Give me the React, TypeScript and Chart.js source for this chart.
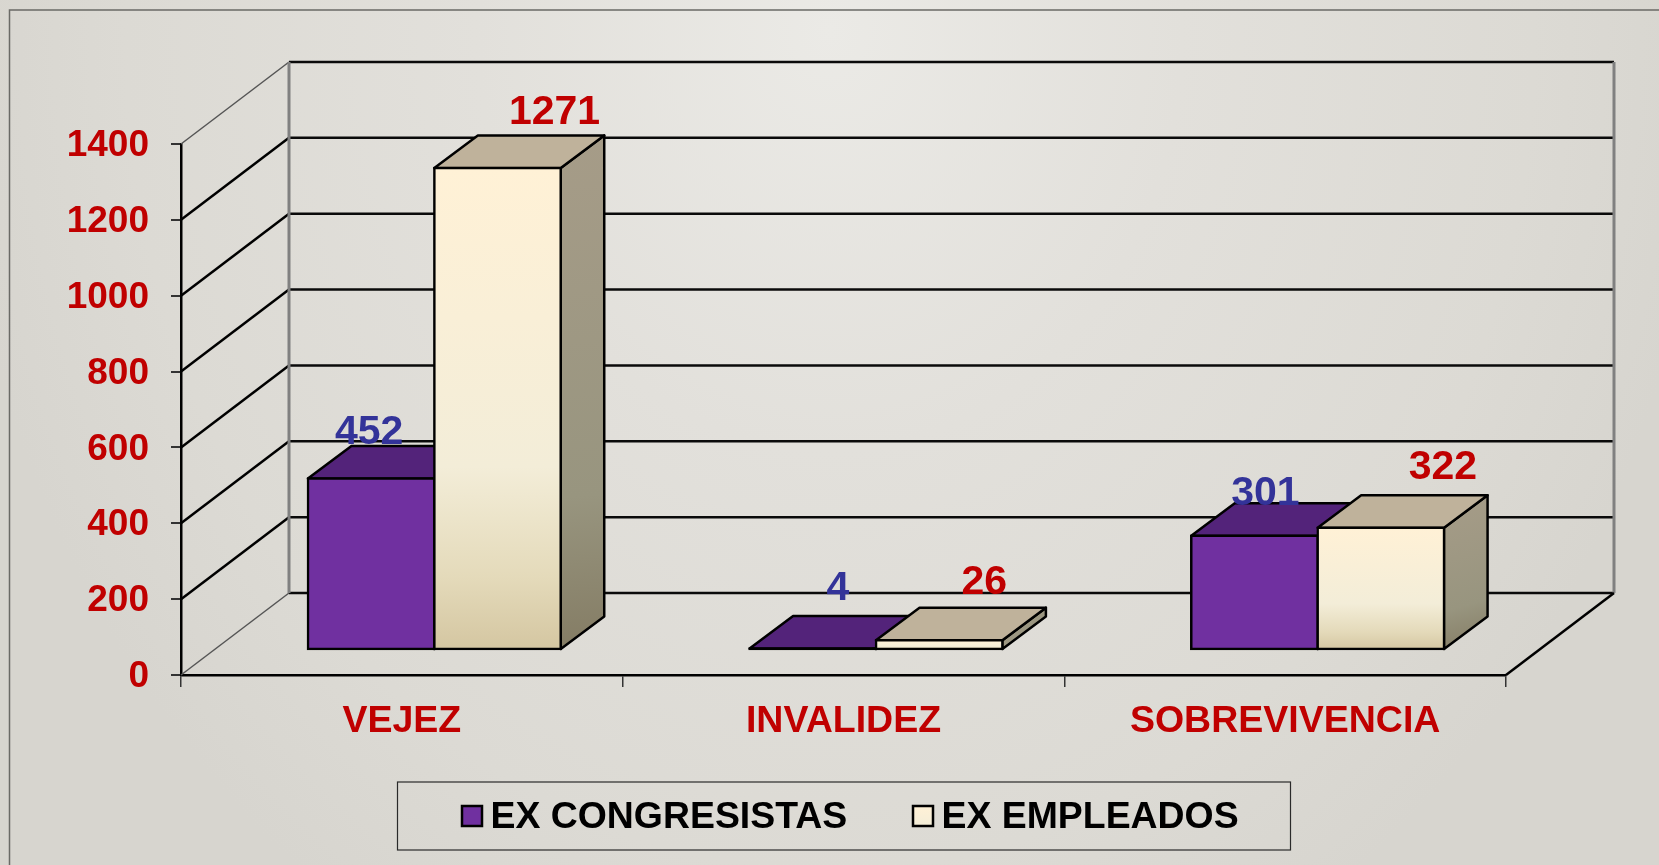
import React, { useEffect, useRef } from "react";
import { Chart, registerables } from "chart.js";

Chart.register(...registerables);

const categories = ["VEJEZ", "INVALIDEZ", "SOBREVIVENCIA"];
const exCongresistas = [452, 4, 301];
const exEmpleados = [1271, 26, 322];
const seriesNames = ["EX CONGRESISTAS", "EX EMPLEADOS"];
const yTicks = { min: 0, max: 1400, step: 200 };

// hand-placed label offsets relative to each bar's front-top centre (styling, not data)
const labelNudge = [
  [[-2, -46], [25, -60], [11, -42]],
  [[57, -55], [45, -57], [62, -60]],
];

const W = 1659;
const H = 865;
const FONT = '"Liberation Sans", Arial, sans-serif';
const RED = "#C00000";
const BLUE = "#333399";
const PURPLE = "#7030A0";
const PURPLE_TOP = "#53237A";
const CREAM_TOP = "#BFB29B";
const WALL = { dx: 108, dy: 82 };
const BAR_PLANE = { dx: 32.5, dy: 25 };
const BAR_DEPTH = { dx: 43.5, dy: 32.5 };

function creamStops(g: CanvasGradient) {
  g.addColorStop(0, "#FFF1D6");
  g.addColorStop(0.62, "#F3EDD8");
  g.addColorStop(0.85, "#E4DABA");
  g.addColorStop(1, "#D4C6A1");
  return g;
}

function drawBarFaces(ctx: CanvasRenderingContext2D, meta: any, i: number) {
  ctx.save();
  ctx.strokeStyle = "#000";
  ctx.lineWidth = 2.5;
  ctx.lineJoin = "round";
  for (const el of meta.data) {
    const { x, y: top, base, width } = el.getProps(["x", "y", "base", "width"], true);
    const l = x - width / 2;
    const r = x + width / 2;
    const { dx, dy } = BAR_DEPTH;
    // side face
    const g = ctx.createLinearGradient(r, top - dy, r + dx, base);
    g.addColorStop(0, "#A69C88");
    g.addColorStop(0.7, "#98957F");
    g.addColorStop(1, "#847C64");
    ctx.fillStyle = i === 0 ? "#4A1F6D" : g;
    ctx.beginPath();
    ctx.moveTo(r, top);
    ctx.lineTo(r + dx, top - dy);
    ctx.lineTo(r + dx, base - dy);
    ctx.lineTo(r, base);
    ctx.closePath();
    ctx.fill();
    ctx.stroke();
    // top face
    ctx.fillStyle = i === 0 ? PURPLE_TOP : CREAM_TOP;
    ctx.beginPath();
    ctx.moveTo(l, top);
    ctx.lineTo(l + dx, top - dy);
    ctx.lineTo(r + dx, top - dy);
    ctx.lineTo(r, top);
    ctx.closePath();
    ctx.fill();
    ctx.stroke();
  }
  ctx.restore();
}

const scene3d = {
  id: "scene3d",
  beforeDraw(chart: any) {
    const { ctx } = chart;
    ctx.save();
    ctx.translate(830, 30);
    ctx.scale(0.88, 1.05);
    const bg = ctx.createRadialGradient(0, 0, 0, 0, 0, 1000);
    bg.addColorStop(0, "#EBEAE6");
    bg.addColorStop(0.4, "#E2E0DB");
    bg.addColorStop(0.8, "#DCDAD4");
    bg.addColorStop(1, "#D7D5CF");
    ctx.fillStyle = bg;
    ctx.fillRect(-1100, -100, 2200, 1000);
    ctx.restore();
    ctx.save();
    // slide frame
    ctx.strokeStyle = "#6A6A66";
    ctx.lineWidth = 1.5;
    ctx.beginPath();
    ctx.moveTo(9.5, H);
    ctx.lineTo(9.5, 10);
    ctx.lineTo(W, 10);
    ctx.stroke();
    ctx.restore();
  },
  beforeDatasetsDraw(chart: any) {
    const { ctx, chartArea: a, scales } = chart;
    const y = scales.y;
    const backL = a.left + WALL.dx;
    const backR = a.right + WALL.dx;
    ctx.save();
    // grid lines on side wall and back wall
    for (const t of y.ticks) {
      const py = y.getPixelForValue(t.value);
      const edge = t.value === yTicks.min || t.value === yTicks.max;
      ctx.strokeStyle = edge ? "#555" : "#000";
      ctx.lineWidth = edge ? 1.5 : 2.5;
      ctx.beginPath();
      ctx.moveTo(a.left, py);
      ctx.lineTo(backL, py - WALL.dy);
      ctx.stroke();
      ctx.strokeStyle = "#0A0A0A";
      ctx.lineWidth = 2.5;
      ctx.beginPath();
      ctx.moveTo(backL, py - WALL.dy);
      ctx.lineTo(backR, py - WALL.dy);
      ctx.stroke();
    }
    // back wall verticals
    ctx.strokeStyle = "#808080";
    ctx.lineWidth = 3;
    ctx.beginPath();
    ctx.moveTo(backL, a.top - WALL.dy);
    ctx.lineTo(backL, a.bottom - WALL.dy);
    ctx.moveTo(backR, a.top - WALL.dy);
    ctx.lineTo(backR, a.bottom - WALL.dy);
    ctx.stroke();
    // floor right edge
    ctx.strokeStyle = "#000";
    ctx.lineWidth = 2.5;
    ctx.beginPath();
    ctx.moveTo(a.right, a.bottom);
    ctx.lineTo(backR, a.bottom - WALL.dy);
    ctx.stroke();
    ctx.restore();

    // bars: the left series first, so the right series sits in front of it
    ctx.save();
    ctx.translate(BAR_PLANE.dx, -BAR_PLANE.dy);
    chart.data.datasets.forEach((_: any, i: number) => {
      const meta = chart.getDatasetMeta(i);
      drawBarFaces(ctx, meta, i);
      meta.controller.draw();
    });
    ctx.restore();

    // value labels
    ctx.save();
    ctx.textAlign = "center";
    ctx.textBaseline = "middle";
    ctx.font = `bold 41px ${FONT}`;
    chart.data.datasets.forEach((ds: any, i: number) => {
      const meta = chart.getDatasetMeta(i);
      ctx.fillStyle = i === 0 ? BLUE : RED;
      meta.data.forEach((el: any, j: number) => {
        const { x, y: py } = el.getProps(["x", "y"], true);
        const [nx, ny] = labelNudge[i][j];
        ctx.fillText(String(ds.data[j]), x + BAR_PLANE.dx + nx, py - BAR_PLANE.dy + ny);
      });
    });
    ctx.restore();
    return false;
  },
  afterDraw(chart: any) {
    const { ctx } = chart;
    ctx.save();
    ctx.strokeStyle = "#2A2A2A";
    ctx.lineWidth = 1.2;
    ctx.strokeRect(397.5, 782, 893, 68);
    const items = [
      { box: 462, text: 490.5, fill: PURPLE },
      { box: 913, text: 941.5, fill: null },
    ];
    ctx.font = `bold 37.4px ${FONT}`;
    ctx.textBaseline = "middle";
    ctx.textAlign = "left";
    items.forEach((it, i) => {
      let fill: any = it.fill;
      if (!fill) fill = creamStops(ctx.createLinearGradient(0, 806, 0, 840));
      ctx.fillStyle = fill;
      ctx.strokeStyle = "#000";
      ctx.lineWidth = 2.5;
      ctx.fillRect(it.box, 806, 20, 20);
      ctx.strokeRect(it.box, 806, 20, 20);
      ctx.fillStyle = "#000";
      ctx.fillText(seriesNames[i], it.text, 818);
    });
    ctx.restore();
  },
};

export default function App() {
  const ref = useRef<HTMLCanvasElement | null>(null);
  useEffect(() => {
    const chart = new Chart(ref.current as HTMLCanvasElement, {
      type: "bar",
      data: {
        labels: categories,
        datasets: [
          {
            label: seriesNames[0],
            data: exCongresistas,
            // a bar thinner than its outline reads as a solid black edge
            backgroundColor: (c: any) => {
              const y = c.chart.scales?.y;
              if (!y || c.raw === undefined) return PURPLE;
              const h = Math.abs(y.getPixelForValue(0) - y.getPixelForValue(c.raw));
              return h < 4 ? "#000" : PURPLE;
            },
          },
          {
            label: seriesNames[1],
            data: exEmpleados,
            backgroundColor: (c: any) => {
              const y = c.chart.scales?.y;
              if (!y || c.raw === undefined) return "#FFF1D6";
              const y0 = y.getPixelForValue(c.raw);
              const y1 = y.getPixelForValue(0);
              if (!Number.isFinite(y0) || !Number.isFinite(y1)) return "#FFF1D6";
              return creamStops(c.chart.ctx.createLinearGradient(0, y0, 0, y1));
            },
          },
        ],
      },
      options: {
        responsive: false,
        animation: false,
        layout: { padding: { top: 144, right: 153, left: 0, bottom: 0 } },
        datasets: {
          bar: {
            categoryPercentage: 253 / 442,
            barPercentage: 1,
            borderColor: "#000",
            borderWidth: 2.5,
            borderSkipped: false,
            inflateAmount: 1.25,
          },
        },
        plugins: { legend: { display: false }, tooltip: { enabled: false }, title: { display: false } },
        scales: {
          x: {
            afterFit: (s: any) => {
              s.height = 190;
            },
            border: { display: true, color: "#000", width: 2.5 },
            grid: { drawOnChartArea: false, drawTicks: true, tickLength: 12, color: "#333", lineWidth: 1.5 },
            ticks: {
              color: RED,
              padding: 12,
              maxRotation: 0,
              autoSkip: false,
              font: { family: FONT, size: 37.5, weight: "bold" },
            },
          },
          y: {
            min: yTicks.min,
            max: yTicks.max,
            afterFit: (s: any) => {
              s.width = 181;
            },
            border: { display: true, color: "#000", width: 2.5 },
            grid: { drawOnChartArea: false, drawTicks: true, tickLength: 10, color: "#333", lineWidth: 2 },
            ticks: {
              stepSize: yTicks.step,
              color: RED,
              padding: 22,
              labelOffset: 2,
              callback: (v: any) => String(v),
              font: { family: FONT, size: 37, weight: "bold" },
            },
          },
        },
      } as any,
      plugins: [scene3d as any],
    });
    return () => chart.destroy();
  }, []);
  return (
    <canvas
      ref={ref}
      width={W}
      height={H}
      style={{ position: "fixed", left: 0, top: 0, display: "block" }}
    />
  );
}
